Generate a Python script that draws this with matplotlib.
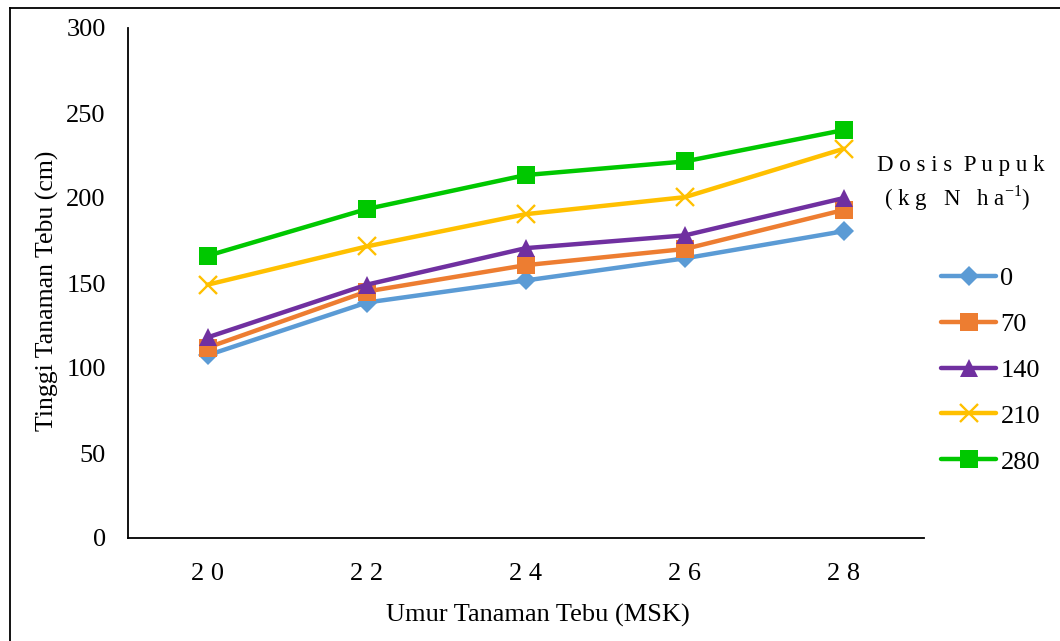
import matplotlib
matplotlib.use("Agg")
import matplotlib.pyplot as plt
from matplotlib.lines import Line2D

plt.rcParams['font.family'] = ['Liberation Serif', 'DejaVu Serif']

# Umur tanaman (minggu setelah kepras) and tinggi tanaman per dosis pupuk
umur = ["20", "22", "24", "26", "28"]
dosis = ["0", "70", "140", "210", "280"]
tinggi_0 = [107.5, 138.5, 151.5, 164.5, 180.5]
tinggi_70 = [112, 145, 160.5, 170, 193]
tinggi_140 = [118, 149, 170.5, 178, 200]
tinggi_210 = [149, 171.5, 190.5, 200.5, 229]
tinggi_280 = [166, 193.5, 213.5, 221.5, 240]
y_ticks = [0, 50, 100, 150, 200, 250, 300]

series = [tinggi_0, tinggi_70, tinggi_140, tinggi_210, tinggi_280]
colors = ["#5B9BD5", "#ED7D31", "#7030A0", "#FFC000", "#00C800"]
markers = ["D", "s", "^", "x", "s"]
msizes = [10.5, 12.5, 12.5, 13, 12.5]

fig = plt.figure(figsize=(10.6, 6.41), dpi=100)
ax = fig.add_axes([128 / 1060, 1 - 538 / 641, (923.5 - 128) / 1060, (538 - 28) / 641])

xpos = list(range(len(umur)))
handles = []
for vals, c, m, ms, lab in zip(series, colors, markers, msizes, dosis):
    kw = dict(color=c, lw=3.2, marker=m, markersize=ms, label=lab, solid_capstyle='round')
    if m == "x":
        kw.update(markeredgewidth=1.7)
    else:
        kw.update(markeredgewidth=0)
    h, = ax.plot(xpos, vals, **kw)
    handles.append(h)

ax.set_xlim(-0.5, len(umur) - 0.5)
ax.set_ylim(0, 300)
ax.set_xticks(xpos)
ax.set_xticklabels([" ".join(u) for u in umur])
ax.set_yticks(y_ticks)
ax.tick_params(axis='both', length=0, labelsize=19)
ax.tick_params(axis='y', pad=16)
ax.tick_params(axis='x', pad=18)
for s in ['top', 'right']:
    ax.spines[s].set_visible(False)
for s in ['left', 'bottom']:
    ax.spines[s].set_linewidth(1.3)
    ax.spines[s].set_color('black')

ax.set_xlabel("Umur Tanaman Tebu (MSK)", fontsize=19, labelpad=16)
ax.xaxis.set_label_coords(538 / 1060, 1 - 615 / 641, transform=fig.transFigure)
ax.xaxis.label.set_va('center')
ax.set_ylabel("Tinggi Tanaman Tebu (cm)", fontsize=18.5)
ax.yaxis.set_label_coords(47 / 1060, 1 - 291 / 641, transform=fig.transFigure)
ax.yaxis.label.set_va('center')

# legend title
fig.text(961 / 1060, 1 - 166 / 641, "D o s i s  P u p u k", ha='center', va='center', fontsize=16.5)
fig.text(957 / 1060, 1 - 198 / 641, "( k g   N   h a$^{\\mathregular{-1}}$)", ha='center', va='center', fontsize=16.5)

leg = fig.legend(handles=handles, labels=dosis, loc='upper left',
                 bbox_to_anchor=(941 / 1060, 1 - 266.5 / 641), frameon=False,
                 fontsize=19, handlelength=2.1, handletextpad=0.15, labelspacing=0.85,
                 borderaxespad=0, borderpad=0)

# outer frame
fig.add_artist(Line2D([10 / 1060, 10 / 1060], [0, 1 - 8 / 641], transform=fig.transFigure, color='black', lw=1.3))
fig.add_artist(Line2D([10 / 1060, 1], [1 - 8 / 641, 1 - 8 / 641], transform=fig.transFigure, color='black', lw=1.3))

fig.savefig("out.png", dpi=100)
